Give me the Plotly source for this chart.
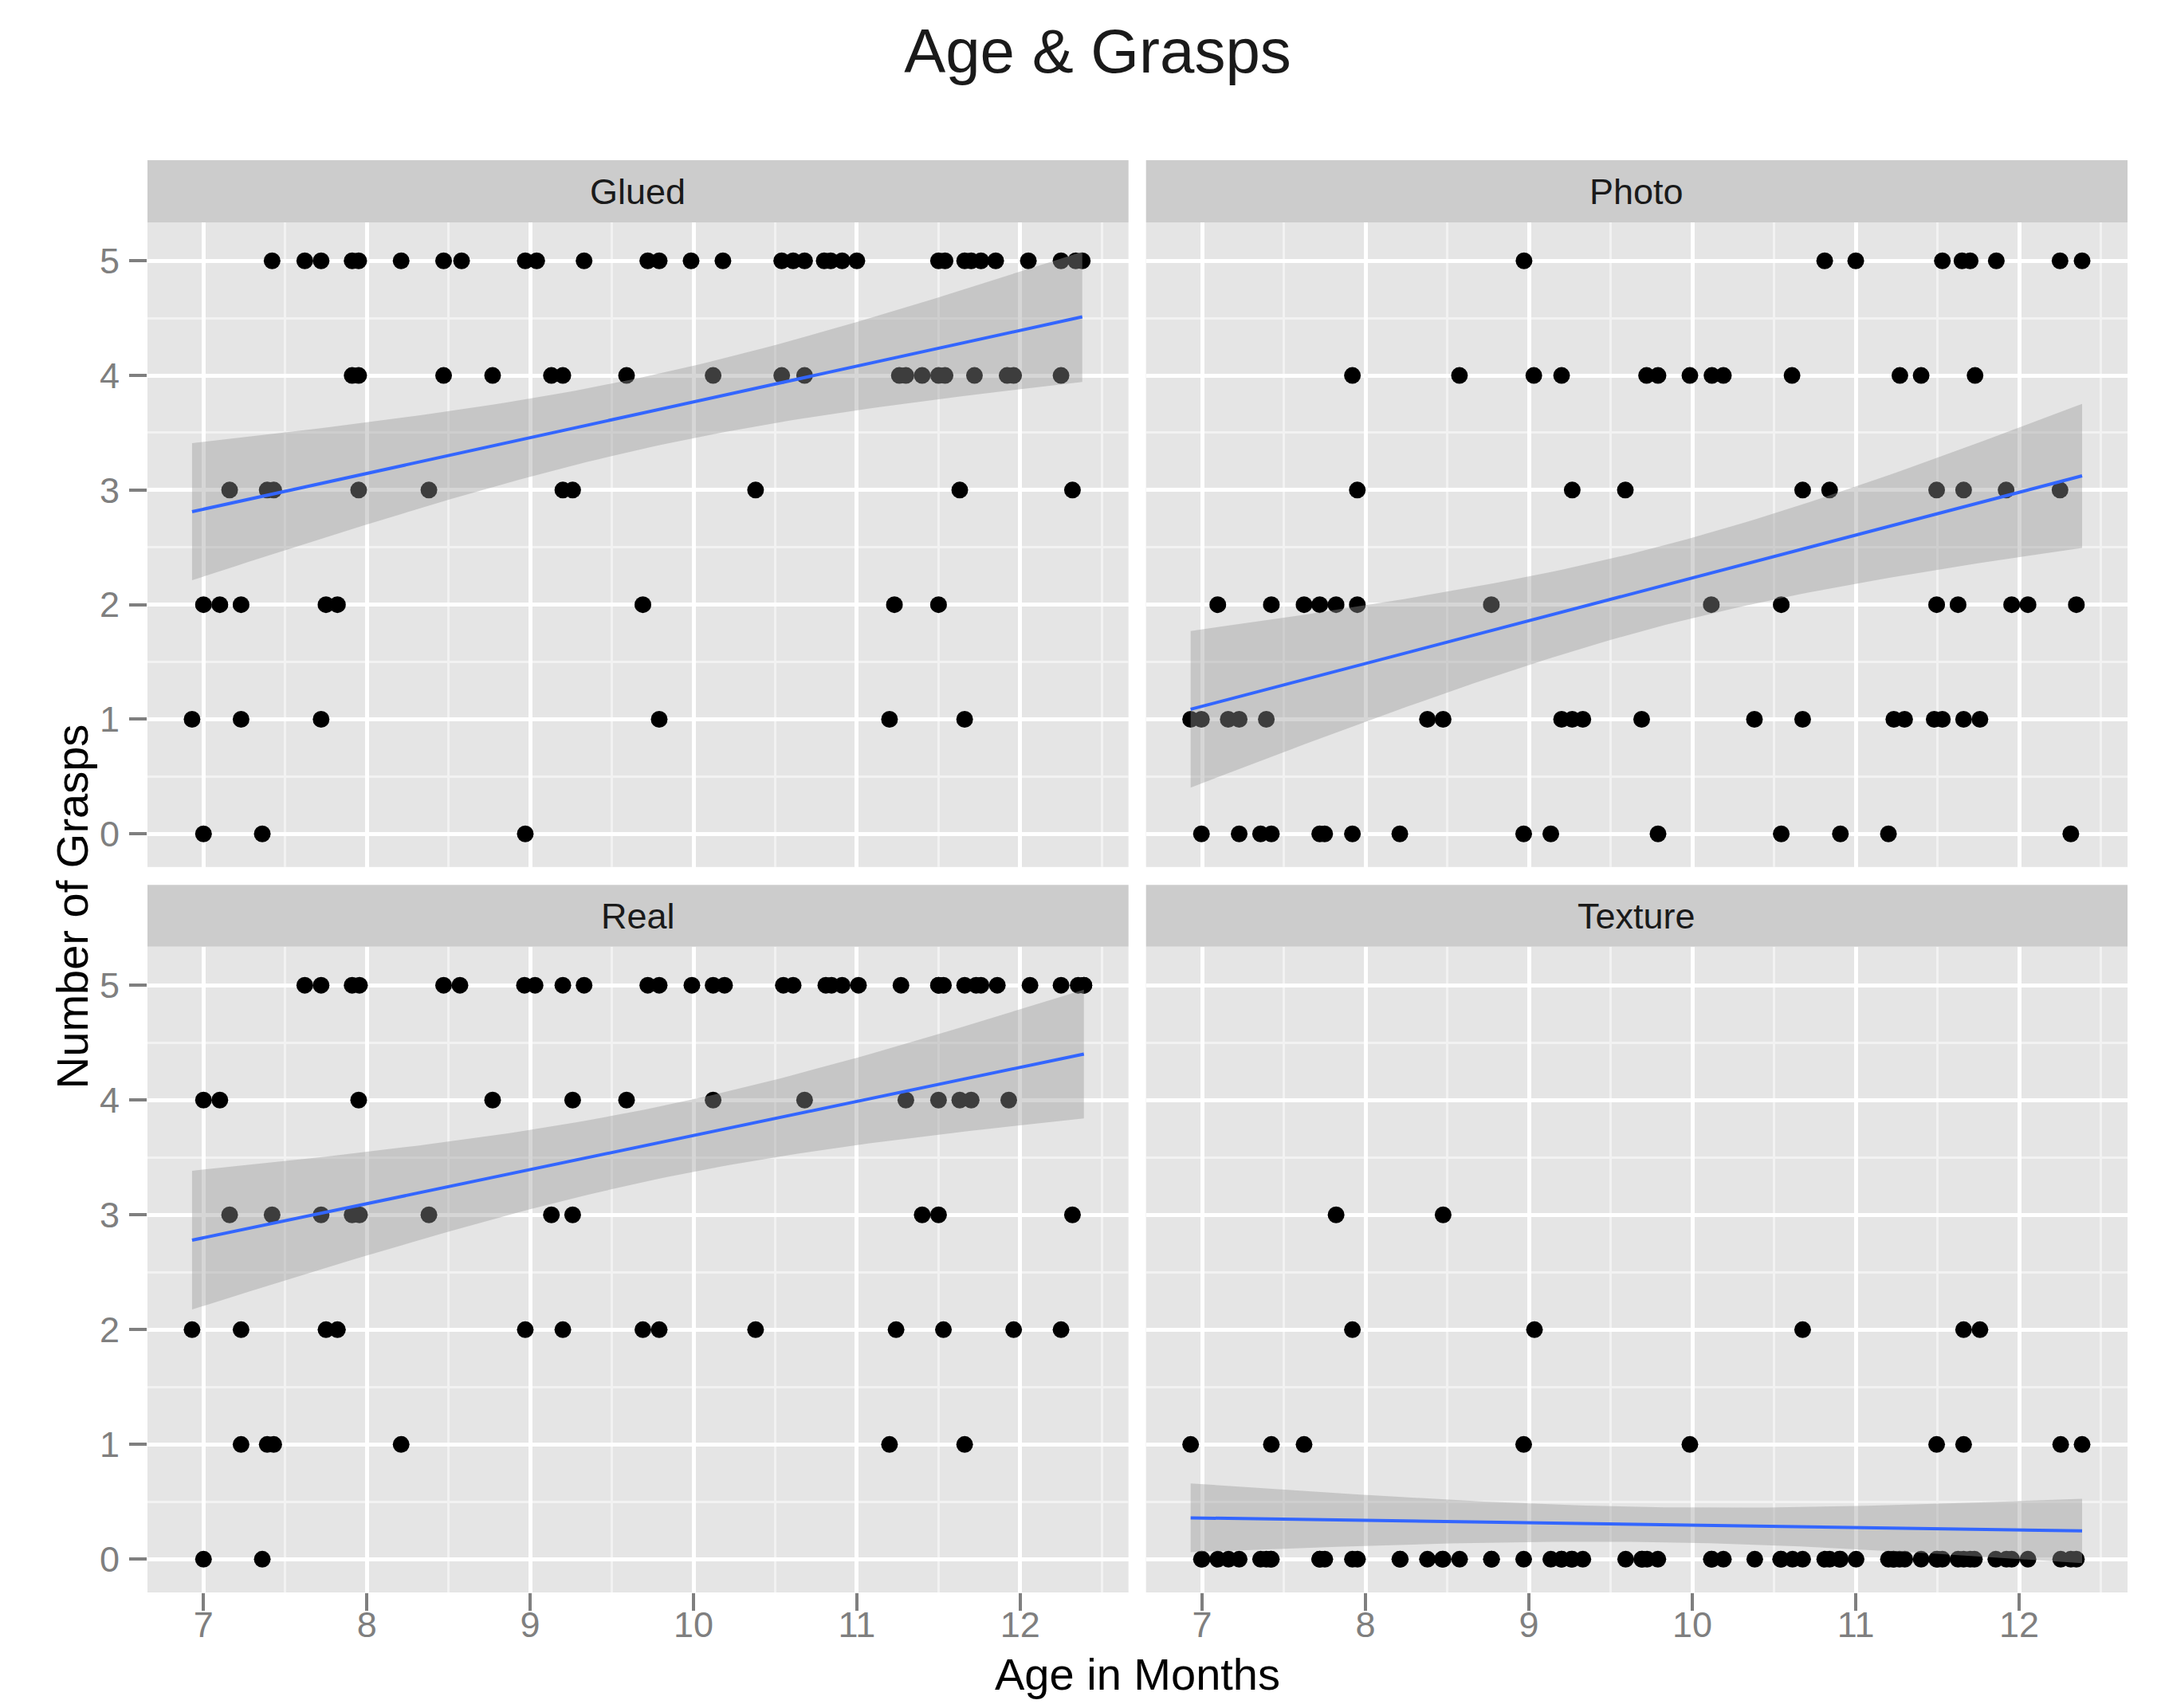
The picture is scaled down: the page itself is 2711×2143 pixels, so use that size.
import numpy as np
import plotly.graph_objects as go

# ---------------- data ----------------
panels = ["Glued", "Photo", "Real", "Texture"]

glued_age = [7.42, 7.62, 7.72, 7.91, 7.95, 8.21, 8.47, 8.58, 8.97, 9.04, 9.33, 9.72, 9.79, 9.985, 10.18,
             10.54, 10.61, 10.68, 10.80, 10.84, 10.91, 11.00, 11.50, 11.54, 11.66, 11.70, 11.76, 11.85,
             12.05, 12.25, 12.34, 12.38,
             7.91, 7.95, 8.47, 8.77, 9.13, 9.20, 9.59, 10.12, 10.54, 10.68, 11.26, 11.30, 11.40, 11.50,
             11.54, 11.72, 11.92, 11.96, 12.25,
             7.16, 7.39, 7.43, 7.95, 8.38, 9.20, 9.26, 10.38, 11.63, 12.32,
             7.00, 7.10, 7.23, 7.75, 7.82, 9.69, 11.23, 11.50,
             6.93, 7.23, 7.72, 9.79, 11.20, 11.66,
             7.00, 7.36, 8.97]
glued_grasps = [5, 5, 5, 5, 5, 5, 5, 5, 5, 5, 5, 5, 5, 5, 5, 5, 5, 5, 5, 5, 5, 5, 5, 5, 5, 5, 5, 5, 5, 5, 5, 5,
                4, 4, 4, 4, 4, 4, 4, 4, 4, 4, 4, 4, 4, 4, 4, 4, 4, 4, 4,
                3, 3, 3, 3, 3, 3, 3, 3, 3, 3,
                2, 2, 2, 2, 2, 2, 2, 2,
                1, 1, 1, 1, 1, 1,
                0, 0, 0]

photo_age = [8.97, 10.81, 11.00, 11.53, 11.65, 11.70, 11.86, 12.25, 12.385,
             7.92, 8.575, 9.03, 9.20, 9.72, 9.79, 9.985, 10.12, 10.19, 10.61, 11.27, 11.40, 11.73,
             7.95, 9.265, 9.59, 10.675, 10.84, 11.495, 11.66, 11.92, 12.25,
             7.096, 7.424, 7.624, 7.72, 7.82, 7.95, 8.77, 10.116, 10.544, 11.495, 11.626, 11.954, 12.054, 12.35,
             6.93, 6.996, 7.16, 7.227, 7.393, 8.379, 8.475, 9.20, 9.265, 9.33, 9.69, 10.38, 10.675, 11.233,
             11.299, 11.48, 11.53, 11.66, 11.76,
             6.996, 7.227, 7.358, 7.424, 7.72, 7.75, 7.92, 8.21, 8.968, 9.134, 9.79, 10.544, 10.906, 11.20, 12.316]
photo_grasps = [5, 5, 5, 5, 5, 5, 5, 5, 5,
                4, 4, 4, 4, 4, 4, 4, 4, 4, 4, 4, 4, 4,
                3, 3, 3, 3, 3, 3, 3, 3, 3,
                2, 2, 2, 2, 2, 2, 2, 2, 2, 2, 2, 2, 2, 2,
                1, 1, 1, 1, 1, 1, 1, 1, 1, 1, 1, 1, 1, 1, 1, 1, 1, 1, 1,
                0, 0, 0, 0, 0, 0, 0, 0, 0, 0, 0, 0, 0, 0, 0]

real_age = [7.62, 7.72, 7.91, 7.955, 8.47, 8.57, 8.965, 9.03, 9.20, 9.33, 9.72, 9.79, 9.99, 10.12, 10.19,
            10.55, 10.61, 10.81, 10.845, 10.91, 11.01, 11.27, 11.50, 11.53, 11.66, 11.73, 11.76, 11.86,
            12.06, 12.25, 12.355, 12.39, 11.50, 12.39,
            7.00, 7.10, 7.95, 8.77, 9.26, 9.59, 10.12, 10.68, 11.30, 11.50, 11.63, 11.70, 11.93,
            7.16, 7.42, 7.72, 7.91, 7.955, 8.38, 9.13, 9.26, 11.40, 11.50, 12.32,
            6.93, 7.23, 7.75, 7.82, 8.97, 9.20, 9.69, 9.79, 10.38, 11.24, 11.53, 11.96, 12.25,
            7.23, 7.39, 7.43, 8.21, 11.20, 11.66,
            7.00, 7.36]
real_grasps = [5, 5, 5, 5, 5, 5, 5, 5, 5, 5, 5, 5, 5, 5, 5, 5, 5, 5, 5, 5, 5, 5, 5, 5, 5, 5, 5, 5, 5, 5, 5, 5,
               5, 5,
               4, 4, 4, 4, 4, 4, 4, 4, 4, 4, 4, 4, 4,
               3, 3, 3, 3, 3, 3, 3, 3, 3, 3, 3,
               2, 2, 2, 2, 2, 2, 2, 2, 2, 2, 2, 2, 2,
               1, 1, 1, 1, 1, 1,
               0, 0]

texture_age = [7.82, 8.475,
               7.92, 9.034, 10.675, 11.66, 11.76,
               6.93, 7.424, 7.624, 8.968, 9.985, 11.495, 11.66, 12.254, 12.385,
               6.996, 7.096, 7.162, 7.227, 7.358, 7.393, 7.424, 7.72, 7.751, 7.92, 7.951, 8.213, 8.379,
               8.475, 8.576, 8.772, 8.968, 9.134, 9.199, 9.265, 9.33, 9.592, 9.693, 9.723, 9.789, 10.116,
               10.19, 10.382, 10.544, 10.613, 10.675, 10.81, 10.84, 10.906, 11.002, 11.2, 11.233, 11.268,
               11.3, 11.4, 11.495, 11.53, 11.626, 11.66, 11.7, 11.726, 11.857, 11.922, 11.954, 12.054,
               12.254, 12.316, 12.35,
               7.0, 7.42, 7.72, 8.21, 8.47, 8.77, 9.2, 9.26, 9.69, 10.12, 10.54, 10.9, 11.23, 11.5]
texture_grasps = [3, 3,
                  2, 2, 2, 2, 2,
                  1, 1, 1, 1, 1, 1, 1, 1, 1,
                  0, 0, 0, 0, 0, 0, 0, 0, 0, 0, 0, 0, 0, 0, 0, 0, 0, 0, 0, 0, 0, 0, 0, 0, 0, 0,
                  0, 0, 0, 0, 0, 0, 0, 0, 0, 0, 0, 0, 0, 0, 0, 0, 0, 0, 0, 0, 0, 0, 0, 0, 0, 0, 0,
                  0, 0, 0, 0, 0, 0, 0, 0, 0, 0, 0, 0, 0, 0]

x_ticks = [7, 8, 9, 10, 11, 12]
y_ticks = [0, 1, 2, 3, 4, 5]

title_text = "Age & Grasps"
x_title = "Age in Months"
y_title = "Number of Grasps"

data = {
    "Glued": (glued_age, glued_grasps),
    "Photo": (photo_age, photo_grasps),
    "Real": (real_age, real_grasps),
    "Texture": (texture_age, texture_grasps),
}

# ---------------- linear fit with 95% confidence band ----------------
def t975(df):
    z = 1.959963985
    return z + (z**3 + z) / (4 * df) + (5 * z**5 + 16 * z**3 + 3 * z) / (96 * df**2)

def lm_band(x, y, n=80):
    x = np.asarray(x, float)
    y = np.asarray(y, float)
    N = len(x)
    X = np.column_stack([np.ones(N), x])
    beta, *_ = np.linalg.lstsq(X, y, rcond=None)
    resid = y - X @ beta
    s2 = resid @ resid / (N - 2)
    XtXi = np.linalg.inv(X.T @ X)
    xs = np.linspace(x.min(), x.max(), n)
    Xs = np.column_stack([np.ones(n), xs])
    fit = Xs @ beta
    se = np.sqrt(s2 * np.einsum("ij,jk,ik->i", Xs, XtXi, Xs))
    t = t975(N - 2)
    return xs, fit, fit - t * se, fit + t * se

bands = {p: lm_band(*data[p]) for p in panels}

all_x = np.concatenate([np.asarray(data[p][0]) for p in panels])
xspan = all_x.max() - all_x.min()
xr = [all_x.min() - 0.05 * xspan, all_x.max() + 0.05 * xspan]
ylo = min(0, min(bands[p][2].min() for p in panels))
yhi = max(5, max(bands[p][3].max() for p in panels))
yspan = yhi - ylo
yr = [ylo - 0.05 * yspan, yhi + 0.05 * yspan]

# ---------------- layout geometry ----------------
# the page body has an 8px margin, so the figure is drawn 8px in from the window edge
OFF = 8
W, H = 2711 - 2 * OFF, 2143 - 2 * OFF
P_LEFT, P_RIGHT, P_TOP, P_BOTTOM = 185, 2669, 201, 1997.7   # window-pixel plot area
ML = P_LEFT - OFF
MT = P_TOP - OFF
PW = P_RIGHT - P_LEFT
PH = P_BOTTOM - P_TOP
MR = W - ML - PW
MB = H - MT - PH

def px_x(v):
    return (v - P_LEFT) / PW

def px_y(v):
    return (P_BOTTOM - v) / PH

col_dom = [[0, px_x(1415.7)], [px_x(1437.7), 1]]
row_data = [[px_y(1087.7), px_y(279)], [0, px_y(1187.7)]]
row_strip = [[px_y(279), 1], [px_y(1187.7), px_y(1110)]]

FONT = "Liberation Sans, Arial, Helvetica, sans-serif"
GREY50 = "#7F7F7F"

fig = go.Figure()
layout = dict(
    width=W, height=H,
    margin=dict(l=ML, r=MR, t=MT, b=MB, pad=0, autoexpand=False),
    paper_bgcolor="white", plot_bgcolor="#E5E5E5",
    showlegend=False,
    font=dict(family=FONT),
)

shapes = []
annotations = []

for i, p in enumerate(panels):
    r, c = divmod(i, 2)
    k = i + 1
    xa = "x" if k == 1 else f"x{k}"
    ya = "y" if k == 1 else f"y{k}"
    ages, grasps = data[p]
    xs, fit, lo, hi = bands[p]

    fig.add_trace(go.Scatter(x=ages, y=grasps, mode="markers", xaxis=xa, yaxis=ya,
                             marker=dict(color="black", size=21, line=dict(width=0)),
                             hoverinfo="x+y"))
    fig.add_trace(go.Scatter(x=np.concatenate([xs, xs[::-1]]), y=np.concatenate([hi, lo[::-1]]),
                             mode="lines", fill="toself", fillcolor="rgba(153,153,153,0.4)",
                             line=dict(width=0), xaxis=xa, yaxis=ya, hoverinfo="skip"))
    fig.add_trace(go.Scatter(x=xs, y=fit, mode="lines", line=dict(color="#3366FF", width=4),
                             xaxis=xa, yaxis=ya, hoverinfo="skip"))

    bottom = (r == 1)
    left = (c == 0)
    xkey = "xaxis" if k == 1 else f"xaxis{k}"
    ykey = "yaxis" if k == 1 else f"yaxis{k}"
    layout[xkey] = dict(
        domain=col_dom[c], anchor=ya, range=xr, tickvals=x_ticks,
        showgrid=True, gridcolor="white", gridwidth=5, zeroline=False, showline=False,
        minor=dict(tick0=6.5, dtick=1, showgrid=True, gridcolor="#F2F2F2", gridwidth=2.5, ticks=""),
        ticks="outside" if bottom else "", ticklen=22, tickwidth=4, tickcolor=GREY50,
        showticklabels=bottom, ticklabelstandoff=-21, automargin=False,
        tickfont=dict(size=45, color=GREY50, family=FONT),
    )
    layout[ykey] = dict(
        domain=row_data[r], anchor=xa, range=yr, tickvals=y_ticks,
        showgrid=True, gridcolor="white", gridwidth=5, zeroline=False, showline=False,
        minor=dict(tick0=0.5, dtick=1, showgrid=True, gridcolor="#F2F2F2", gridwidth=2.5, ticks=""),
        ticks="outside" if left else "", ticklen=22, tickwidth=4, tickcolor=GREY50,
        showticklabels=left, ticklabelstandoff=3, automargin=False,
        tickfont=dict(size=45, color=GREY50, family=FONT),
    )
    # facet strip
    shapes.append(dict(type="rect", xref="paper", yref="paper",
                       x0=col_dom[c][0], x1=col_dom[c][1],
                       y0=row_strip[r][0], y1=row_strip[r][1],
                       fillcolor="#CCCCCC", line=dict(width=0), layer="below"))
    annotations.append(dict(text=p, xref="paper", yref="paper",
                            x=(col_dom[c][0] + col_dom[c][1]) / 2,
                            y=(row_strip[r][0] + row_strip[r][1]) / 2,
                            xanchor="center", yanchor="middle", showarrow=False,
                            font=dict(size=45, color="#1A1A1A", family=FONT)))

annotations.append(dict(text=x_title, xref="paper", yref="paper", x=0.5, y=px_y(2100),
                        xanchor="center", yanchor="middle", showarrow=False,
                        font=dict(size=56, color="black", family=FONT)))
annotations.append(dict(text=y_title, xref="paper", yref="paper", x=px_x(90), y=px_y(1137),
                        xanchor="center", yanchor="middle", textangle=-90, showarrow=False,
                        font=dict(size=56, color="black", family=FONT)))

layout["shapes"] = shapes
layout["annotations"] = annotations
layout["title"] = dict(text=title_text, x=(1377 - OFF) / W, xanchor="center", xref="container",
                       y=1 - (64 - OFF) / H, yanchor="middle", yref="container",
                       font=dict(size=78, color="#1A1A1A", family=FONT))

fig.update_layout(**layout)
fig.write_html("out.html")
